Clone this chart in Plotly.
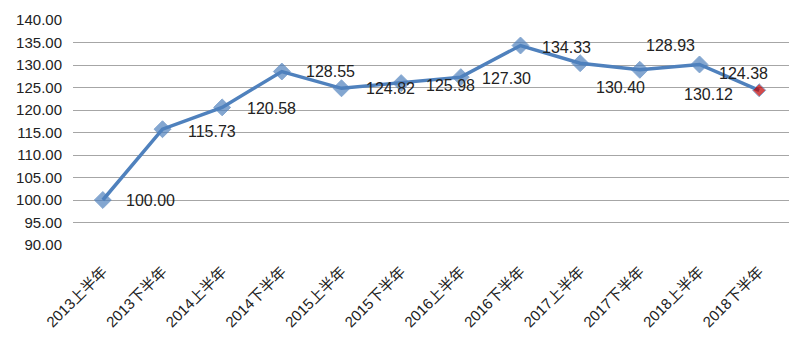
import plotly.graph_objects as go

categories = ["2013上半年", "2013下半年", "2014上半年", "2014下半年", "2015上半年", "2015下半年",
              "2016上半年", "2016下半年", "2017上半年", "2017下半年", "2018上半年", "2018下半年"]
values = [100.00, 115.73, 120.58, 128.55, 124.82, 125.98, 127.30, 134.33, 130.40, 128.93, 130.12, 124.38]
y_ticks = [90, 95, 100, 105, 110, 115, 120, 125, 130, 135, 140]

# label offsets (pixels) per point, relative to the point
label_dx = [48, 49, 49, 49, 49, 49, 46, 46, 40, 31, 9, -16]
label_dy = [0, -2, -1, 0, 0, -2, -1, -2, -24, 24, -30, 17]

blue = "#4F81BD"
marker_colors = [blue] * (len(values) - 1) + ["#C00000"]
marker_sizes = [13] * (len(values) - 1) + [10]

fig = go.Figure()
fig.add_trace(go.Scatter(
    x=categories, y=values, mode="lines+markers",
    line=dict(color=blue, width=3.5),
    marker=dict(symbol="diamond", size=marker_sizes, color=marker_colors),
    showlegend=False, hoverinfo="x+y",
))

for c, v, dx, dy in zip(categories, values, label_dx, label_dy):
    fig.add_annotation(x=c, y=v, text=f"{v:.2f}", showarrow=False,
                       xshift=dx, yshift=dy,
                       font=dict(size=16, color="#222222",
                                 family="Liberation Sans, Noto Sans CJK SC"))

fig.update_layout(
    width=800, height=353,
    margin=dict(l=73, r=11, t=14, b=108),
    paper_bgcolor="white", plot_bgcolor="white",
    font=dict(family="Liberation Sans, Noto Sans CJK SC", color="#222222"),
)
fig.update_xaxes(
    type="category", tickangle=-45, showgrid=False,
    showline=False, ticks="", ticklabelstandoff=14,
    tickfont=dict(size=15, family="Liberation Sans, Noto Sans CJK SC", color="#222222"),
    range=[-0.5, len(categories) - 0.5],
)
fig.update_yaxes(
    range=[90, 140], tickvals=y_ticks, ticktext=[f"{t:.2f}" for t in y_ticks],
    showgrid=True, gridcolor="#A6A6A6", gridwidth=1, zeroline=False,
    showline=False, ticks="", ticklabelstandoff=10,
    tickfont=dict(size=15, family="Liberation Sans, Noto Sans CJK SC", color="#222222"),
)

fig.write_html("out.html")
